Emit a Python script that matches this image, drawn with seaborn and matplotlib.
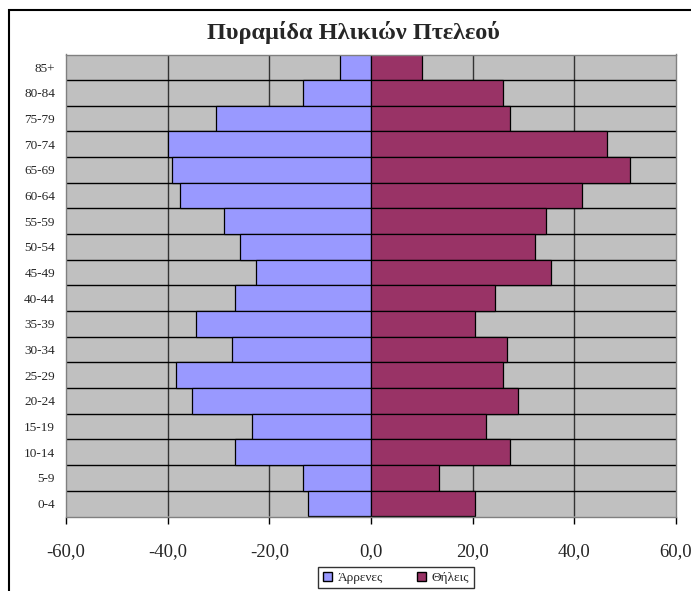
#population pyramid of Pteleos, excel style
import pandas as pd
import numpy as np
import matplotlib.pyplot as plt
import seaborn as sns
from matplotlib.patches import Patch, Rectangle

#age groups, top to bottom
ages = ['85+', '80-84', '75-79', '70-74', '65-69', '60-64', '55-59', '50-54', '45-49',
        '40-44', '35-39', '30-34', '25-29', '20-24', '15-19', '10-14', '5-9', '0-4']

#males drawn to the left (negative), females to the right
males = [-6.1, -13.3, -30.5, -40.0, -39.2, -37.6, -28.9, -25.8, -22.6,
         -26.7, -34.4, -27.3, -38.4, -35.3, -23.5, -26.7, -13.3, -12.4]
females = [10.1, 25.9, 27.4, 46.4, 51.0, 41.6, 34.5, 32.3, 35.4,
           24.3, 20.4, 26.8, 25.9, 29.0, 22.7, 27.4, 13.3, 20.4]

labels = ['Άρρενες', 'Θήλεις']
xticks = [-60, -40, -20, 0, 20, 40, 60]

df = pd.DataFrame({
    'age': ages * 2,
    'value': males + females,
    'sex': [labels[0]] * len(ages) + [labels[1]] * len(ages),
})

sns.set_style('white')
plt.rcParams['font.family'] = ['Liberation Serif', 'DejaVu Serif']

colors = {labels[0]: '#9999FF', labels[1]: '#993366'}

fig = plt.figure(figsize=(6.91, 5.91), dpi=100)
ax = fig.add_axes([66 / 691, 74.5 / 591, 610 / 691, 462 / 591])
ax.set_facecolor('#C0C0C0')

sns.barplot(data=df, x='value', y='age', hue='sex', order=ages, dodge=False,
            palette=colors, saturation=1, width=1.0, edgecolor='black', linewidth=0.9,
            orient='h', legend=False, ax=ax, zorder=2)

#gridlines, vertical every 20, horizontal between categories
ax.vlines([-40, -20, 20, 40], -0.5, len(ages) - 0.5, color='#333333', linewidth=1, zorder=1)
ax.hlines(np.arange(len(ages) - 1) + 0.5, -60, 60, color='black', linewidth=1, zorder=1)

ax.set_xlim(-60, 60)
ax.set_ylim(len(ages) - 0.5, -0.5)
ax.set_xticks(xticks)
ax.set_xticklabels([f'{t:.1f}'.replace('.', ',') for t in xticks], fontsize=13.5)
ax.tick_params(axis='x', direction='out', length=5, width=1, color='black', pad=14, bottom=True)
ax.tick_params(axis='y', length=0, pad=8, labelsize=9.5)
ax.set_xlabel('')
ax.set_ylabel('')
for s in ax.spines.values():
    s.set_color('#808080')
    s.set_linewidth(1)

fig.text(353 / 691, 1 - 32 / 591, 'Πυραμίδα Ηλικιών Πτελεού', ha='center', va='center',
         fontsize=17.5, fontweight='bold')

#outer chart border, runs off the right and bottom edges
fig.patches.append(Rectangle((9 / 691, -0.05), 1.0, 1 - 9.5 / 591 + 0.05, transform=fig.transFigure,
                             fill=False, edgecolor='black', linewidth=1.5))

handles = [Patch(facecolor=colors[l], edgecolor='black', label=l) for l in labels]
leg = fig.legend(handles=handles, loc='upper center', bbox_to_anchor=(396 / 691, 1 - 567 / 591),
                 ncol=2, fontsize=9.5, frameon=True, fancybox=False, handlelength=0.7,
                 handleheight=0.7, handletextpad=0.4, columnspacing=2.6, borderpad=0.35,
                 borderaxespad=0)
leg.get_frame().set_edgecolor('black')
leg.get_frame().set_linewidth(1)

fig.savefig('out.png', dpi=100, facecolor='white')
